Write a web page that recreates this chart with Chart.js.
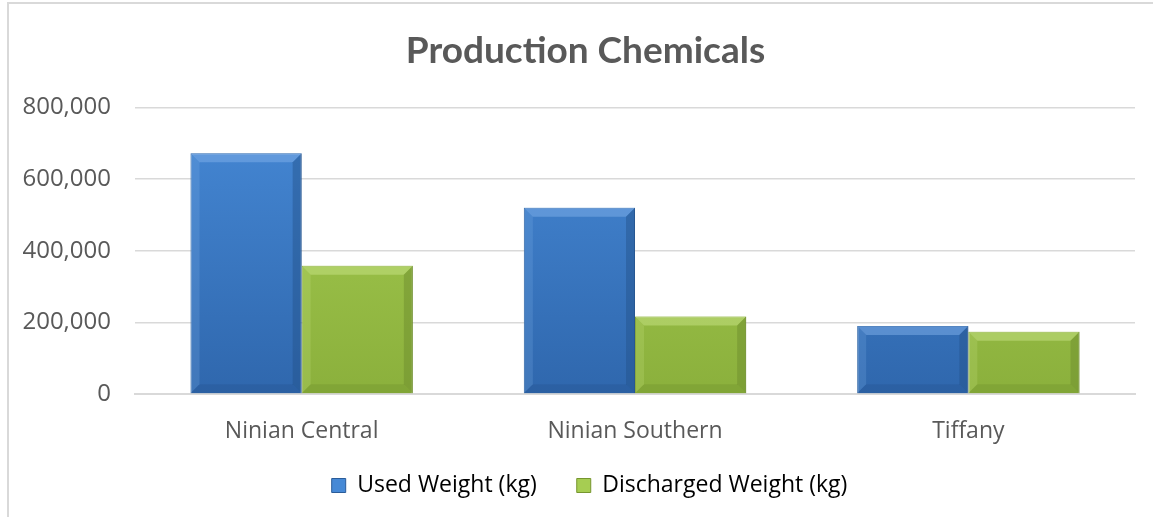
<!DOCTYPE html>
<html>
<head>
<meta charset="utf-8">
<script src="https://cdn.jsdelivr.net/npm/chart.js@4"></script>
<style>
  body { margin: 0; background: #fff; }
  #frame { position: absolute; left: 7px; top: 2px; width: 1160px; height: 513px;
           border-left: 2px solid #d9d9d9; border-top: 2px solid #d9d9d9; }
  #wrap { position: absolute; left: 0; top: 0; width: 1153px; height: 518px; }
</style>
</head>
<body>
<div id="frame"></div>
<div id="wrap"><canvas id="chart"></canvas></div>
<script>
// données du graphique
const categories = ["Ninian Central", "Ninian Southern", "Tiffany"];
const usedWeight = [672000, 520000, 190000];
const dischargedWeight = [358000, 216000, 174000];
const seriesNames = ["Used Weight (kg)", "Discharged Weight (kg)"];
const yTicks = [0, 200000, 400000, 600000, 800000];

const palette = [
    { top: "#4689d6", bottom: "#2f67ad", light: "#7fb0ea", dark: "#24518a", edge: "#2a5c99" },
    { top: "#a6cd52", bottom: "#8bb03c", light: "#c8e486", dark: "#6b8a2c", edge: "#76962f" }
];

function faceGradient(ctx, i) {
    const chart = ctx.chart;
    const area = chart.chartArea;
    if (!area) return palette[i].top;
    const g = chart.ctx.createLinearGradient(0, area.top, 0, area.bottom);
    g.addColorStop(0, palette[i].top);
    g.addColorStop(1, palette[i].bottom);
    return g;
}

// effet biseauté sur les barres
const bevelPlugin = {
    id: "bevel",
    afterDatasetsDraw(chart) {
        const c = chart.ctx;
        chart.data.datasets.forEach((ds, i) => {
            const meta = chart.getDatasetMeta(i);
            meta.data.forEach(bar => {
                const l = bar.x - bar.width / 2, r = bar.x + bar.width / 2;
                const t = bar.y, b = bar.base;
                const s = Math.min(9, (b - t) / 3);
                const p = palette[i];
                c.save();
                // haut
                c.globalAlpha = 0.5;
                c.fillStyle = p.light;
                c.beginPath();
                c.moveTo(l, t); c.lineTo(r, t); c.lineTo(r - s, t + s); c.lineTo(l + s, t + s);
                c.closePath(); c.fill();
                // gauche
                c.globalAlpha = 0.22;
                c.beginPath();
                c.moveTo(l, t); c.lineTo(l + s, t + s); c.lineTo(l + s, b - s); c.lineTo(l, b);
                c.closePath(); c.fill();
                // droite
                c.globalAlpha = 0.45;
                c.fillStyle = p.dark;
                c.beginPath();
                c.moveTo(r, t); c.lineTo(r, b); c.lineTo(r - s, b - s); c.lineTo(r - s, t + s);
                c.closePath(); c.fill();
                // bas
                c.globalAlpha = 0.3;
                c.beginPath();
                c.moveTo(l, b); c.lineTo(r, b); c.lineTo(r - s, b - s); c.lineTo(l + s, b - s);
                c.closePath(); c.fill();
                c.restore();
            });
        });
    }
};

// hauteur fixe de la légende et décalage du titre / légende
const LEGEND_HEIGHT = 72;
const layoutFix = {
    id: "layoutFix",
    beforeLayout(chart) {
        const lg = chart.legend;
        if (lg && !lg._patched) {
            const fit = lg.fit;
            lg.fit = function () { fit.call(this); this.height = LEGEND_HEIGHT; };
            lg._patched = true;
        }
    },
    afterLayout(chart) {
        const lg = chart.legend;
        lg.left += 22; lg.right += 22;
        lg.top -= 12; lg.bottom -= 12;
        chart.titleBlock.left += 18; chart.titleBlock.right += 18;
    }
};

const ctx = document.getElementById("chart").getContext("2d");
new Chart(ctx, {
    type: "bar",
    data: {
        labels: categories,
        datasets: [
            {
                label: seriesNames[0],
                data: usedWeight,
                backgroundColor: c => faceGradient(c, 0),
                borderColor: palette[0].edge,
                borderWidth: 1
            },
            {
                label: seriesNames[1],
                data: dischargedWeight,
                backgroundColor: c => faceGradient(c, 1),
                borderColor: palette[1].edge,
                borderWidth: 1
            }
        ]
    },
    options: {
        responsive: true,
        maintainAspectRatio: false,
        animation: false,
        layout: { padding: { left: 0, right: 18, top: 0, bottom: 0 } },
        datasets: { bar: { categoryPercentage: 0.667, barPercentage: 1 } },
        plugins: {
            title: {
                display: true,
                text: "Production Chemicals",
                color: "#595959",
                font: { family: "Lato", size: 37, weight: "bold" },
                padding: { top: 29, bottom: 34 }
            },
            legend: {
                position: "bottom",
                labels: {
                    color: "#595959",
                    font: { family: "Open Sans", size: 23 },
                    boxWidth: 14,
                    boxHeight: 14,
                    padding: 40,
                    generateLabels: chart => chart.data.datasets.map((ds, i) => ({
                        text: ds.label,
                        fillStyle: palette[i].top,
                        strokeStyle: palette[i].edge,
                        lineWidth: 1,
                        datasetIndex: i
                    }))
                }
            },
            tooltip: { enabled: false }
        },
        scales: {
            x: {
                grid: { display: false },
                border: { color: "#d9d9d9", width: 2 },
                afterFit: axis => { axis.height = 52; },
                ticks: { color: "#595959", font: { family: "Open Sans", size: 23 }, padding: 16 }
            },
            y: {
                min: 0,
                max: 800000,
                afterBuildTicks: axis => { axis.ticks = yTicks.map(v => ({ value: v })); },
                afterFit: axis => { axis.width = 135; },
                grid: { color: "#d9d9d9", lineWidth: 1.5, drawTicks: false },
                border: { display: false },
                ticks: {
                    color: "#595959",
                    font: { family: "Open Sans", size: 24 },
                    padding: 24,
                    callback: v => v.toLocaleString("en-US")
                }
            }
        }
    },
    plugins: [bevelPlugin, layoutFix]
});
</script>
</body>
</html>
